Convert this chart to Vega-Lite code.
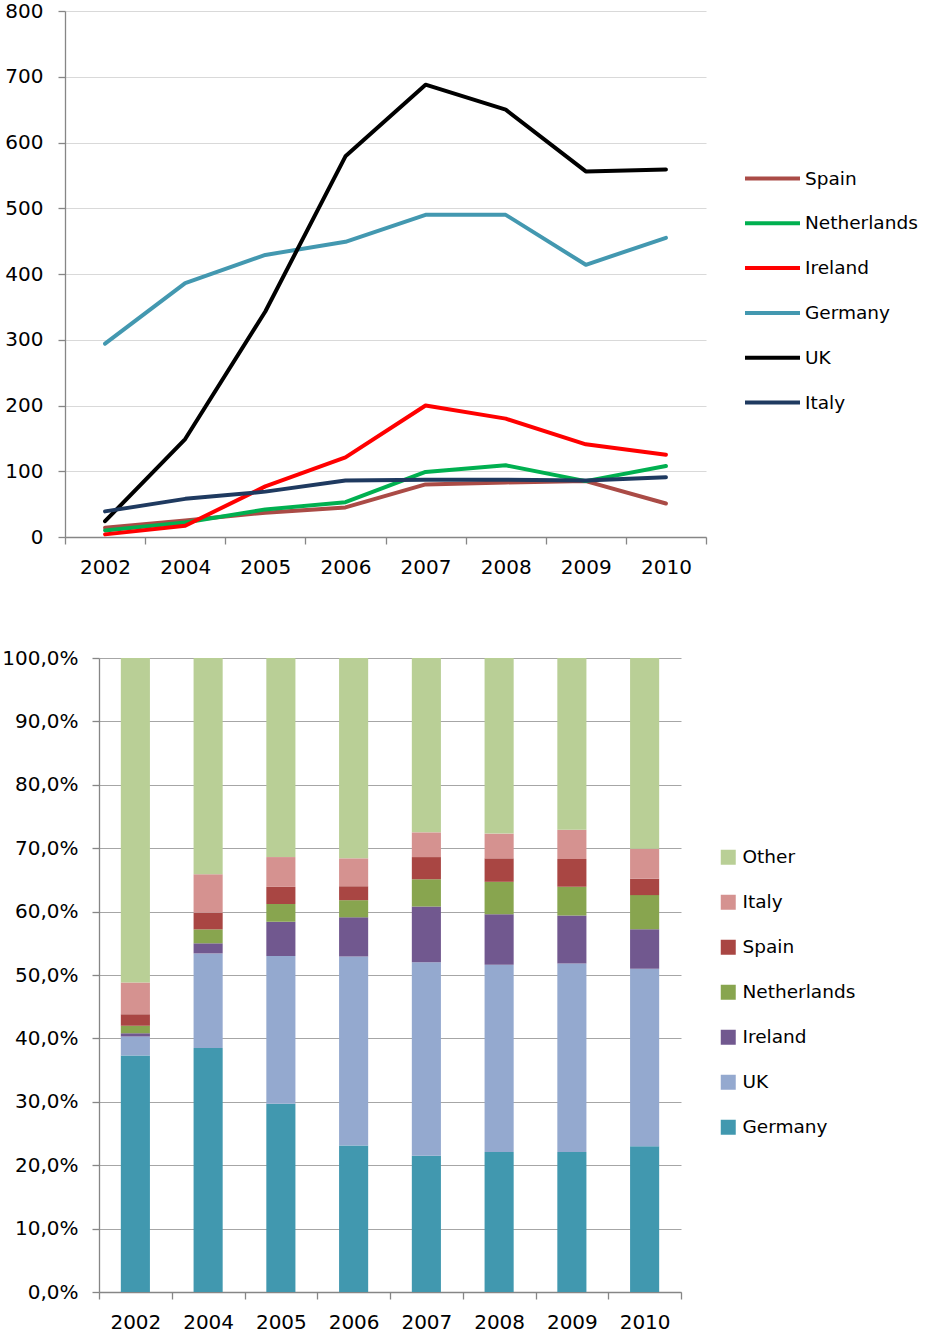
{
  "$schema": "https://vega.github.io/schema/vega-lite/v6.json",
  "padding": {"left": 1, "top": 1, "right": 0, "bottom": 0},
  "background": "white",
  "datasets": {
    "lines": [
      {"year": "2002", "country": "Spain", "value": 14},
      {"year": "2004", "country": "Spain", "value": 25},
      {"year": "2005", "country": "Spain", "value": 37},
      {"year": "2006", "country": "Spain", "value": 45},
      {"year": "2007", "country": "Spain", "value": 80},
      {"year": "2008", "country": "Spain", "value": 83},
      {"year": "2009", "country": "Spain", "value": 85},
      {"year": "2010", "country": "Spain", "value": 51},
      {"year": "2002", "country": "Netherlands", "value": 10},
      {"year": "2004", "country": "Netherlands", "value": 22},
      {"year": "2005", "country": "Netherlands", "value": 42},
      {"year": "2006", "country": "Netherlands", "value": 53},
      {"year": "2007", "country": "Netherlands", "value": 99},
      {"year": "2008", "country": "Netherlands", "value": 109},
      {"year": "2009", "country": "Netherlands", "value": 85},
      {"year": "2010", "country": "Netherlands", "value": 108},
      {"year": "2002", "country": "Ireland", "value": 4},
      {"year": "2004", "country": "Ireland", "value": 17},
      {"year": "2005", "country": "Ireland", "value": 77},
      {"year": "2006", "country": "Ireland", "value": 121},
      {"year": "2007", "country": "Ireland", "value": 200},
      {"year": "2008", "country": "Ireland", "value": 180},
      {"year": "2009", "country": "Ireland", "value": 141},
      {"year": "2010", "country": "Ireland", "value": 125},
      {"year": "2002", "country": "Germany", "value": 294},
      {"year": "2004", "country": "Germany", "value": 386},
      {"year": "2005", "country": "Germany", "value": 429},
      {"year": "2006", "country": "Germany", "value": 449},
      {"year": "2007", "country": "Germany", "value": 490},
      {"year": "2008", "country": "Germany", "value": 490},
      {"year": "2009", "country": "Germany", "value": 414},
      {"year": "2010", "country": "Germany", "value": 455},
      {"year": "2002", "country": "UK", "value": 24},
      {"year": "2004", "country": "UK", "value": 149},
      {"year": "2005", "country": "UK", "value": 343},
      {"year": "2006", "country": "UK", "value": 579},
      {"year": "2007", "country": "UK", "value": 688},
      {"year": "2008", "country": "UK", "value": 650},
      {"year": "2009", "country": "UK", "value": 556},
      {"year": "2010", "country": "UK", "value": 559},
      {"year": "2002", "country": "Italy", "value": 39},
      {"year": "2004", "country": "Italy", "value": 58},
      {"year": "2005", "country": "Italy", "value": 69},
      {"year": "2006", "country": "Italy", "value": 86},
      {"year": "2007", "country": "Italy", "value": 87},
      {"year": "2008", "country": "Italy", "value": 87},
      {"year": "2009", "country": "Italy", "value": 86},
      {"year": "2010", "country": "Italy", "value": 91}
    ],
    "shares": [
      {"year": "2002", "country": "Germany", "share": 37.3},
      {"year": "2002", "country": "UK", "share": 3.0},
      {"year": "2002", "country": "Ireland", "share": 0.5},
      {"year": "2002", "country": "Netherlands", "share": 1.2},
      {"year": "2002", "country": "Spain", "share": 1.8},
      {"year": "2002", "country": "Italy", "share": 5.0},
      {"year": "2002", "country": "Other", "share": 51.2},
      {"year": "2004", "country": "Germany", "share": 38.5},
      {"year": "2004", "country": "UK", "share": 14.9},
      {"year": "2004", "country": "Ireland", "share": 1.6},
      {"year": "2004", "country": "Netherlands", "share": 2.2},
      {"year": "2004", "country": "Spain", "share": 2.6},
      {"year": "2004", "country": "Italy", "share": 6.1},
      {"year": "2004", "country": "Other", "share": 34.1},
      {"year": "2005", "country": "Germany", "share": 29.7},
      {"year": "2005", "country": "UK", "share": 23.3},
      {"year": "2005", "country": "Ireland", "share": 5.4},
      {"year": "2005", "country": "Netherlands", "share": 2.8},
      {"year": "2005", "country": "Spain", "share": 2.7},
      {"year": "2005", "country": "Italy", "share": 4.7},
      {"year": "2005", "country": "Other", "share": 31.4},
      {"year": "2006", "country": "Germany", "share": 23.1},
      {"year": "2006", "country": "UK", "share": 29.8},
      {"year": "2006", "country": "Ireland", "share": 6.2},
      {"year": "2006", "country": "Netherlands", "share": 2.7},
      {"year": "2006", "country": "Spain", "share": 2.2},
      {"year": "2006", "country": "Italy", "share": 4.4},
      {"year": "2006", "country": "Other", "share": 31.6},
      {"year": "2007", "country": "Germany", "share": 21.5},
      {"year": "2007", "country": "UK", "share": 30.5},
      {"year": "2007", "country": "Ireland", "share": 8.8},
      {"year": "2007", "country": "Netherlands", "share": 4.3},
      {"year": "2007", "country": "Spain", "share": 3.5},
      {"year": "2007", "country": "Italy", "share": 3.9},
      {"year": "2007", "country": "Other", "share": 27.5},
      {"year": "2008", "country": "Germany", "share": 22.1},
      {"year": "2008", "country": "UK", "share": 29.5},
      {"year": "2008", "country": "Ireland", "share": 8.0},
      {"year": "2008", "country": "Netherlands", "share": 5.1},
      {"year": "2008", "country": "Spain", "share": 3.7},
      {"year": "2008", "country": "Italy", "share": 3.9},
      {"year": "2008", "country": "Other", "share": 27.7},
      {"year": "2009", "country": "Germany", "share": 22.1},
      {"year": "2009", "country": "UK", "share": 29.7},
      {"year": "2009", "country": "Ireland", "share": 7.6},
      {"year": "2009", "country": "Netherlands", "share": 4.5},
      {"year": "2009", "country": "Spain", "share": 4.4},
      {"year": "2009", "country": "Italy", "share": 4.6},
      {"year": "2009", "country": "Other", "share": 27.1},
      {"year": "2010", "country": "Germany", "share": 23.0},
      {"year": "2010", "country": "UK", "share": 28.0},
      {"year": "2010", "country": "Ireland", "share": 6.2},
      {"year": "2010", "country": "Netherlands", "share": 5.4},
      {"year": "2010", "country": "Spain", "share": 2.6},
      {"year": "2010", "country": "Italy", "share": 4.7},
      {"year": "2010", "country": "Other", "share": 30.1}
    ]
  },
  "vconcat": [
    {
      "width": 641,
      "height": 526,
      "data": {"name": "lines"},
      "mark": {"type": "line", "strokeWidth": 4, "strokeJoin": "round", "strokeCap": "round"},
      "encoding": {
        "x": {
          "field": "year", "type": "ordinal", "bandPosition": 0.5,
          "scale": {"type": "band", "paddingInner": 0, "paddingOuter": 0},
          "axis": {"title": null, "tickBand": "extent", "labelAngle": 0, "grid": false, "labelPadding": 13}
        },
        "y": {
          "field": "value", "type": "quantitative",
          "scale": {"domain": [0, 800], "nice": false},
          "axis": {"title": null, "values": [0, 100, 200, 300, 400, 500, 600, 700, 800], "gridColor": "#D9D9D9", "labelPadding": 15}
        },
        "color": {
          "field": "country", "type": "nominal",
          "scale": {
            "domain": ["Spain", "Netherlands", "Ireland", "Germany", "UK", "Italy"],
            "range": ["#AA4B46", "#00B050", "#FF0000", "#4398B0", "#000000", "#1F3A60"]
          },
          "legend": {
            "title": null, "orient": "none", "legendX": 678, "legendY": 138,
            "symbolType": "stroke", "symbolSize": 3025, "symbolStrokeWidth": 4,
            "labelOffset": 3, "rowPadding": 5.8, "padding": 0
          }
        }
      }
    },
    {
      "width": 616,
      "height": 634,
      "data": {"name": "shares"},
      "transform": [
        {"window": [{"op": "row_number", "as": "stack_rank"}], "groupby": ["year"]}
      ],
      "mark": {"type": "bar", "width": {"band": 0.4}},
      "encoding": {
        "x": {
          "field": "year", "type": "ordinal",
          "scale": {"type": "band", "paddingInner": 0, "paddingOuter": 0, "range": [34, 616]},
          "axis": {"title": null, "tickBand": "extent", "labelAngle": 0, "grid": false, "labelPadding": 13}
        },
        "y": {
          "field": "share", "type": "quantitative", "stack": "normalize",
          "scale": {"domain": [0, 1], "nice": false},
          "axis": {"title": null, "offset": -34, "values": [0, 0.1, 0.2, 0.3, 0.4, 0.5, 0.6, 0.7, 0.8, 0.9, 1], "gridColor": "#A6A6A6", "labelPadding": 14,
            "labelExpr": "replace(format(datum.value, '.1%'), '.', ',')"}
        },
        "order": {"field": "stack_rank", "type": "quantitative", "sort": "ascending"},
        "color": {
          "field": "country", "type": "nominal",
          "scale": {
            "domain": ["Germany", "UK", "Ireland", "Netherlands", "Spain", "Italy", "Other"],
            "range": ["#4198AF", "#94A9CF", "#71588F", "#88A54F", "#A94643", "#D59290", "#B9CF96"]
          },
          "legend": {
            "title": null, "orient": "none", "legendX": 654, "legendY": 190,
            "values": ["Other", "Italy", "Spain", "Netherlands", "Ireland", "UK", "Germany"],
            "symbolType": "square", "symbolSize": 225, "symbolStrokeWidth": 0,
            "labelOffset": 5, "rowPadding": 26, "padding": 0
          }
        }
      }
    }
  ],
  "spacing": 71,
  "resolve": {"scale": {"color": "independent"}, "legend": {"color": "independent"}},
  "config": {
    "view": {"stroke": null},
    "font": "DejaVu Sans",
    "axis": {
      "labelFont": "DejaVu Sans", "labelFontSize": 20, "labelColor": "#000000",
      "domainColor": "#868686", "tickColor": "#868686", "tickSize": 7, "domainWidth": 1.3, "tickWidth": 1.3
    },
    "legend": {"labelFont": "DejaVu Sans", "labelFontSize": 18.5, "labelColor": "#000000", "labelLimit": 300}
  }
}
